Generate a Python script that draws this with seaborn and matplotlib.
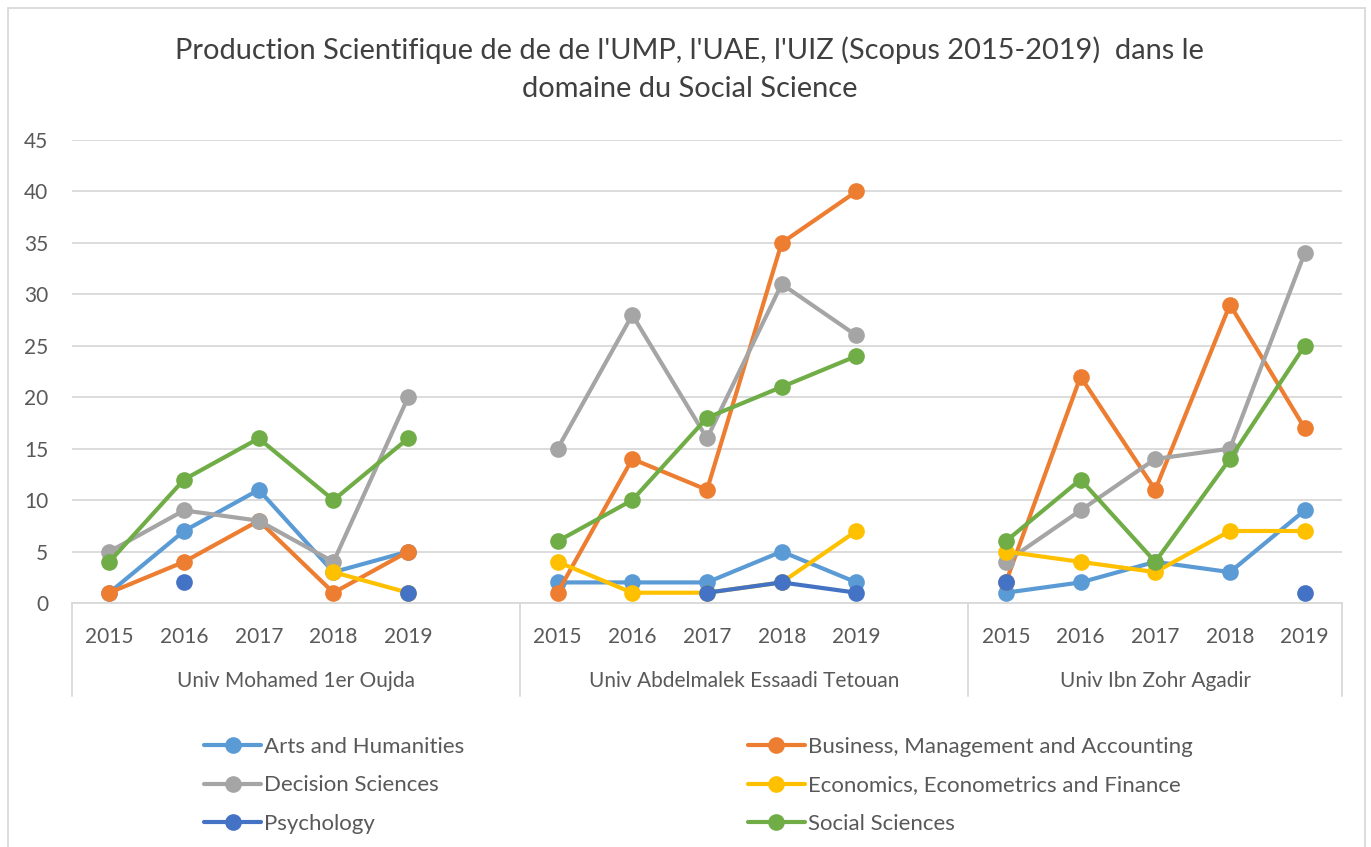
import numpy as np
import pandas as pd
import matplotlib.pyplot as plt
from matplotlib.lines import Line2D
from matplotlib.patches import Rectangle
import matplotlib.transforms as mtransforms
import seaborn as sns

sns.set_theme(style="white")
plt.rcParams['font.family'] = ['Lato', 'DejaVu Sans']

nan = np.nan
years = ['2015', '2016', '2017', '2018', '2019']
universities = ['Univ Mohamed 1er Oujda', 'Univ Abdelmalek Essaadi Tetouan', 'Univ Ibn Zohr Agadir']
series_names = ['Arts and Humanities', 'Business, Management and Accounting', 'Decision Sciences',
                'Economics, Econometrics and Finance', 'Psychology', 'Social Sciences']
colors = ['#5B9BD5', '#ED7D31', '#A5A5A5', '#FFC000', '#4472C4', '#70AD47']

# values per university (UMP, UAE, UIZ), 2015..2019
arts = [1, 7, 11, 3, 5, 2, 2, 2, 5, 2, 1, 2, 4, 3, 9]
business = [1, 4, 8, 1, 5, 1, 14, 11, 35, 40, 2, 22, 11, 29, 17]
decision = [5, 9, 8, 4, 20, 15, 28, 16, 31, 26, 4, 9, 14, 15, 34]
economics = [nan, nan, nan, 3, 1, 4, 1, 1, 2, 7, 5, 4, 3, 7, 7]
psychology = [nan, 2, nan, nan, 1, nan, nan, 1, 2, 1, 2, nan, nan, nan, 1]
social = [4, 12, 16, 10, 16, 6, 10, 18, 21, 24, 6, 12, 4, 14, 25]
all_values = [arts, business, decision, economics, psychology, social]

# long table; each university gets 6 category slots (5 years + blank), lines break at gaps
rows = []
for name, vals in zip(series_names, all_values):
    seg = 0
    prev = False
    for k, v in enumerate(vals):
        g, i = divmod(k, 5)
        if np.isnan(v):
            prev = False
            continue
        if not prev or i == 0:
            seg += 1
        prev = True
        rows.append(dict(series=name, x=6 * g + i, value=v, seg=f'{name}-{seg}'))
df = pd.DataFrame(rows)

fig = plt.figure(figsize=(13.71, 8.47), dpi=100)
ax = fig.add_axes([72 / 1371, 1 - 603 / 847, (1342 - 72) / 1371, (603 - 140) / 847])

sns.lineplot(data=df, x='x', y='value', hue='series', units='seg', estimator=None,
             hue_order=series_names, palette=colors, marker='o', markersize=12,
             markeredgewidth=0, linewidth=3, sort=True, legend=False, ax=ax)

ax.set_xlim(-0.5, 16.5)
ax.set_ylim(0, 45)
ax.set_yticks(range(0, 46, 5))
ax.yaxis.grid(True, color='#D9D9D9', linewidth=1.3)
ax.xaxis.grid(False)
for s in ['top', 'right', 'left']:
    ax.spines[s].set_visible(False)
ax.spines['bottom'].set_color('#D9D9D9')
ax.spines['bottom'].set_linewidth(1.3)
ax.set_xlabel('')
ax.set_ylabel('')

xpos = [6 * g + i for g in range(3) for i in range(5)]
ax.set_xticks(xpos, years * 3)
ax.tick_params(axis='x', length=0, pad=17, labelsize=15, labelcolor='#595959')
ax.tick_params(axis='y', length=0, pad=17, labelsize=15, labelcolor='#595959')

trans = mtransforms.blended_transform_factory(ax.transData, ax.transAxes)
bounds = [-0.5, 5.5, 11.5, 16.5]
for xb in bounds:
    ax.plot([xb, xb], [0, -0.2], transform=trans, color='#D9D9D9', linewidth=1.3, clip_on=False)
for g, uni in enumerate(universities):
    ax.text((bounds[g] + bounds[g + 1]) / 2, -0.168, uni, transform=trans, ha='center', va='center',
            fontsize=15, color='#595959')

fig.text(0.503, 1 - 69 / 847,
         "Production Scientifique de de de l'UMP, l'UAE, l'UIZ (Scopus 2015-2019)  dans le\n"
         "domaine du Social Science",
         ha='center', va='center', fontsize=20.9, color='#404040', linespacing=1.55)

order = [0, 2, 4, 1, 3, 5]
handles = [Line2D([], [], color=colors[k], linewidth=3, marker='o', markersize=12,
                  markeredgewidth=0) for k in order]
labels = [series_names[k] for k in order]
fig.legend(handles, labels, ncol=2, loc='upper left', bbox_to_anchor=(204 / 1371, 1 - 737 / 847),
           frameon=False, fontsize=16, labelcolor='#595959', handlelength=2.57,
           handletextpad=0.13, columnspacing=12.75, labelspacing=0.83, borderpad=0, borderaxespad=0)

fig.patches.append(Rectangle((8 / 1371, -0.05), (1365 - 8) / 1371, 1.05 - 8 / 847,
                             transform=fig.transFigure, fill=False, edgecolor='#D9D9D9', linewidth=1.3))

fig.savefig('out.png', dpi=100)
